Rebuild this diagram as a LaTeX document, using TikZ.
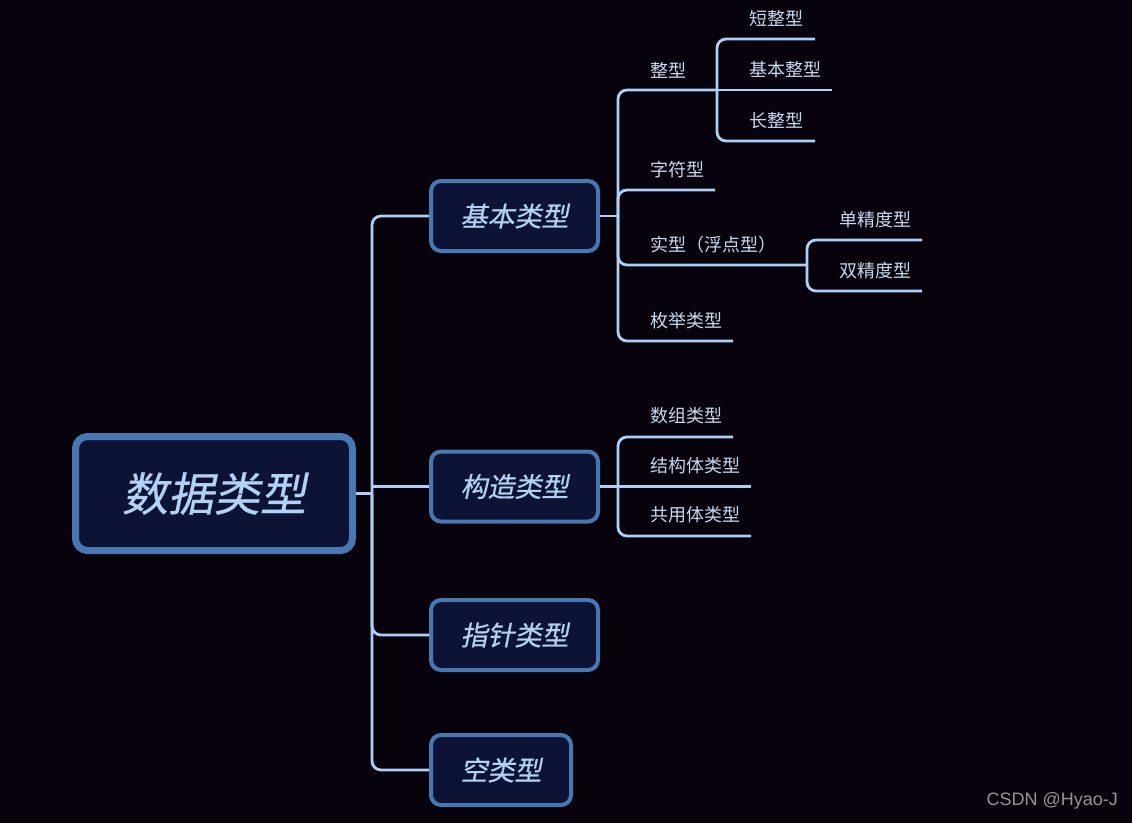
\documentclass[tikz,border=0pt]{standalone}
\usepackage{fontspec}
\newfontfamily\cjk{Noto Sans CJK SC}
\newfontfamily\cjkit[FakeSlant=0.2,FakeBold=0.6]{Noto Sans CJK SC}
\newfontfamily\wmfont{Liberation Sans}
\definecolor{bgc}{RGB}{7,2,12}
\definecolor{boxfill}{RGB}{12,19,53}
\definecolor{boxborder}{RGB}{72,120,178}
\definecolor{linec}{RGB}{172,208,246}
\definecolor{boxtext}{RGB}{178,210,245}
\definecolor{lbltext}{RGB}{200,216,238}
\definecolor{wmc}{RGB}{150,150,150}
\begin{document}
\begin{tikzpicture}[x=1pt,y=-1pt,
  rootbox/.style={draw=boxborder, line width=7pt, fill=boxfill, rounded corners=12pt,
    minimum width=277pt, minimum height=114pt, text=boxtext, inner sep=0pt,
    font=\cjkit\fontsize{46}{50}\selectfont},
  topic/.style={draw=boxborder, line width=4pt, fill=boxfill, rounded corners=10pt,
    minimum height=70pt, text=boxtext, inner sep=0pt,
    font=\cjkit\fontsize{27}{30}\selectfont},
  lbl/.style={anchor=west, inner sep=0pt, text=lbltext, font=\cjk\fontsize{18}{20}\selectfont},
  branch/.style={draw=linec, line width=2.8pt, rounded corners=9pt},
  straight/.style={draw=linec, line width=2.8pt}]
\fill[bgc] (0,0) rectangle (1132,823);
\useasboundingbox (0,0) rectangle (1132,823);

% root and topics
\node[rootbox] (root) at (214,493.5) {数据类型};
\node[topic, minimum width=167pt] (jb) at (514.5,216) {基本类型};
\node[topic, minimum width=167pt] (gz) at (514.5,486.5) {构造类型};
\node[topic, minimum width=167pt] (zz) at (514.5,635) {指针类型};
\node[topic, minimum width=140pt] (kl) at (501,770) {空类型};

% root connectors
\coordinate (j0) at ([xshift=16pt]root.east);
\draw[straight] (root.east) -- (j0);
\draw[branch] (j0) |- (jb.west);
\draw[straight] (j0) -- (j0 |- gz.west);
\draw[straight] (j0 |- gz.west) -- (gz.west);
\draw[branch] (j0) |- (zz.west);
\draw[branch] (j0) |- (kl.west);

% basic type branch
\coordinate (j1) at ([xshift=18pt]jb.east);
\draw[straight] (jb.east) -- (j1);
\coordinate (j3) at (717,90);
\coordinate (j4) at (807,265);
\coordinate (e-zf) at (715,190);
\coordinate (e-mj) at (733,341);
\draw[branch] (j1) |- (j3);
\draw[branch] (j1) |- (e-zf);
\draw[branch] (j1) |- (j4);
\draw[branch] (j1) |- (e-mj);
\node[lbl] (l-zx) at (650,70) {整型};
\node[lbl] (l-zf) at (650,170) {字符型};
\node[lbl] (l-sx) at (650,245) {实型（浮点型）};
\node[lbl] (l-mj) at (650,321) {枚举类型};

% integer sub-branch
\coordinate (e-dz) at (815,39);
\coordinate (e-jz) at (832,90);
\coordinate (e-cz) at (815,141);
\draw[branch] (j3) |- (e-dz);
\draw[straight] (j3) -- (e-jz);
\draw[branch] (j3) |- (e-cz);
\node[lbl] (l-dz) at (749,19) {短整型};
\node[lbl] (l-jz) at (749,70) {基本整型};
\node[lbl] (l-cz) at (749,121) {长整型};

% real sub-branch
\coordinate (e-dj) at (922,240);
\coordinate (e-sj) at (922,291);
\draw[branch] (j4) |- (e-dj);
\draw[branch] (j4) |- (e-sj);
\node[lbl] (l-dj) at (839,220) {单精度型};
\node[lbl] (l-sj) at (839,271) {双精度型};

% structured type branch
\coordinate (j2) at ([xshift=18pt]gz.east);
\draw[straight] (gz.east) -- (j2);
\coordinate (e-sz) at (733,437);
\coordinate (e-jg) at (751,486.5);
\coordinate (e-gy) at (751,536);
\draw[branch] (j2) |- (e-sz);
\draw[straight] (j2) -- (e-jg);
\draw[branch] (j2) |- (e-gy);
\node[lbl] (l-sz) at (650,416) {数组类型};
\node[lbl] (l-jg) at (650,466) {结构体类型};
\node[lbl] (l-gy) at (650,515) {共用体类型};

% watermark
\node[anchor=east, inner sep=0pt, text=wmc, font=\wmfont\fontsize{18}{20}\selectfont] (wm) at (1118,801) {CSDN @Hyao-J};
\end{tikzpicture}
\end{document}
